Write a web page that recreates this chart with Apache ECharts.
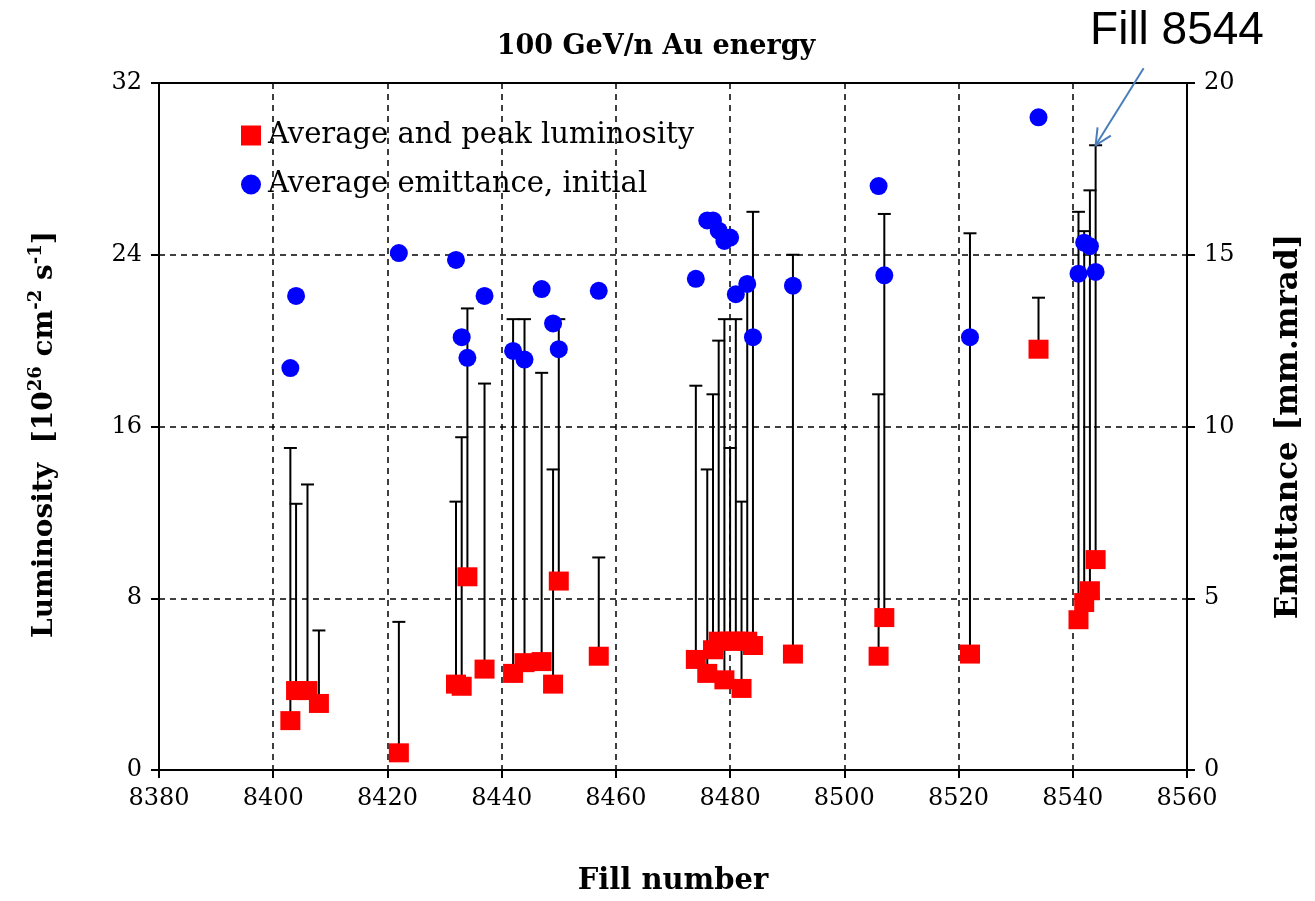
<!DOCTYPE html>
<html><head><meta charset="utf-8">
<script src="https://cdn.jsdelivr.net/npm/echarts@6/dist/echarts.min.js"></script>
<style>html,body{margin:0;padding:0;background:#fff}#c{width:1315px;height:901px}</style>
</head><body><div id="c"></div>
<script>
// ---- data ----
const lumFills = [8403,8404,8406,8408,8422,8432,8433,8434,8437,8442,8444,8447,8449,8450,8457,8474,8476,8477,8478,8479,8480,8481,8482,8483,8484,8491,8506,8507,8522,8534,8541,8542,8543,8544];
const avgLum   = [2.3,3.7,3.7,3.1,0.8,4.0,3.9,9.0,4.7,4.5,5.0,5.05,4.0,8.8,5.3,5.15,4.5,5.6,6.0,4.2,6.0,6.0,3.8,6.0,5.8,5.4,5.3,7.1,5.4,19.6,7.0,7.8,8.35,9.8];
const peakLum  = [15.0,12.4,13.3,6.5,6.9,12.5,15.5,21.5,18.0,21.0,21.0,18.5,14.0,21.0,9.9,17.9,14.0,17.5,20.0,21.0,15.0,21.0,12.5,22.6,26.0,24.0,17.5,25.9,25.0,22.0,26.0,25.1,27.0,29.1];
const emitFills = [8403,8404,8422,8432,8433,8434,8437,8442,8444,8447,8449,8450,8457,8474,8476,8477,8478,8479,8480,8481,8483,8484,8491,8506,8507,8522,8534,8541,8542,8543,8544];
const emittance = [11.7,13.8,15.05,14.85,12.6,12.0,13.8,12.2,11.95,14.0,13.0,12.25,13.95,14.3,16.0,16.0,15.7,15.4,15.5,13.85,14.15,12.6,14.1,17.0,14.4,12.6,19.0,14.45,15.35,15.25,14.5];
const xTicks = {min: 8380, max: 8560, interval: 20};
const yLeftTicks = {min: 0, max: 32, interval: 8};
const yRightTicks = {min: 0, max: 20, interval: 5};
const titleText = '100 GeV/n Au energy';
const annotFill = 8544;
// --------------------------------------

const SERIF = '"DejaVu Serif", "Liberation Serif", serif';
const chart = echarts.init(document.getElementById('c'), null, {renderer: 'canvas'});

const errData = lumFills.map((f, i) => [f, avgLum[i], peakLum[i]]);
const lumData = lumFills.map((f, i) => [f, avgLum[i]]);
const emData = emitFills.map((f, i) => [f, emittance[i]]);

const gridLine = {show: true, lineStyle: {color: '#000', type: [6, 5], width: 1.5}};
const axisLabelStyle = {color: '#000', fontFamily: SERIF, fontSize: 24, formatter: v => String(v)};

chart.setOption({
  animation: false,
  backgroundColor: '#fff',
  title: {
    text: titleText, left: 651, top: 28, textAlign: 'center',
    textStyle: {fontFamily: SERIF, fontWeight: 'bold', fontSize: 27, color: '#000'}
  },
  legend: {
    left: 236, top: 116, orient: 'vertical', itemGap: 20, itemWidth: 20, itemHeight: 20,
    textStyle: {fontFamily: SERIF, fontSize: 29, color: '#000', padding: [0, 0, 0, 2]},
    data: [
      {name: 'Average and peak luminosity', icon: 'rect'},
      {name: 'Average emittance, initial', icon: 'circle'}
    ]
  },
  grid: {left: 159, right: 128, top: 83, bottom: 130, show: true, borderColor: '#000', borderWidth: 2, backgroundColor: 'transparent'},
  xAxis: {
    type: 'value', min: xTicks.min, max: xTicks.max, interval: xTicks.interval,
    name: 'Fill number', nameLocation: 'middle', nameGap: 97,
    nameTextStyle: {fontFamily: SERIF, fontWeight: 'bold', fontSize: 29, color: '#000'},
    axisLine: {lineStyle: {color: '#000', width: 2}},
    axisTick: {show: true, length: 8, lineStyle: {color: '#000', width: 2}},
    axisLabel: Object.assign({margin: 17}, axisLabelStyle),
    splitLine: gridLine
  },
  yAxis: [{
    type: 'value', min: yLeftTicks.min, max: yLeftTicks.max, interval: yLeftTicks.interval,
    name: '{n|Luminosity  [10}{s|26}{n| cm}{s|-2}{n| s}{s|-1}{n|]}', nameLocation: 'middle', nameGap: 96, nameRotate: 90,
    nameTextStyle: {
      padding: [0, 16, 0, 0],
      rich: {
        n: {fontFamily: SERIF, fontWeight: 'bold', fontSize: 28, color: '#000', lineHeight: 36},
        s: {fontFamily: SERIF, fontWeight: 'bold', fontSize: 18, color: '#000', lineHeight: 20, verticalAlign: 'top'}
      }
    },
    axisLine: {show: true, lineStyle: {color: '#000', width: 2}},
    axisTick: {show: true, length: 8, lineStyle: {color: '#000', width: 2}},
    axisLabel: Object.assign({margin: 17}, axisLabelStyle),
    splitLine: gridLine
  }, {
    type: 'value', position: 'right', min: yRightTicks.min, max: yRightTicks.max, interval: yRightTicks.interval,
    name: 'Emittance [mm.mrad]', nameLocation: 'middle', nameGap: 86, nameRotate: 90,
    nameTextStyle: {fontFamily: SERIF, fontWeight: 'bold', fontSize: 31, color: '#000'},
    axisLine: {show: true, lineStyle: {color: '#000', width: 2}},
    axisTick: {show: true, length: 8, lineStyle: {color: '#000', width: 2}},
    axisLabel: Object.assign({margin: 17}, axisLabelStyle),
    splitLine: {show: false}
  }],
  series: [{
    type: 'custom', name: 'errbar', yAxisIndex: 0, silent: true, z: 1,
    data: errData,
    encode: {x: 0, y: [1, 2]},
    renderItem: function (params, api) {
      const lo = api.coord([api.value(0), api.value(1)]);
      const hi = api.coord([api.value(0), api.value(2)]);
      const hw = 6.5;
      return {
        type: 'group',
        children: [
          {type: 'line', shape: {x1: lo[0], y1: lo[1], x2: hi[0], y2: hi[1]}, style: {stroke: '#000', lineWidth: 2}},
          {type: 'line', shape: {x1: hi[0] - hw, y1: hi[1], x2: hi[0] + hw, y2: hi[1]}, style: {stroke: '#000', lineWidth: 2}}
        ]
      };
    }
  }, {
    type: 'scatter', name: 'Average and peak luminosity', yAxisIndex: 0, z: 3,
    symbol: 'rect', symbolSize: [20, 19],
    itemStyle: {color: '#ff0000', opacity: 1},
    data: lumData
  }, {
    type: 'scatter', name: 'Average emittance, initial', yAxisIndex: 1, z: 4,
    symbol: 'circle', symbolSize: 18,
    itemStyle: {color: '#0000ff', opacity: 1},
    data: emData
  }]
});

// annotation arrow pointing at the peak of the annotated fill
const idx = lumFills.indexOf(annotFill);
const tip = chart.convertToPixel({xAxisIndex: 0, yAxisIndex: 0}, [annotFill, peakLum[idx]]);
const tail = [tip[0] + 48, tip[1] - 77];
const ang = Math.atan2(tip[1] - tail[1], tip[0] - tail[0]);
const ah = 18, aw = 0.45;
const p1 = [tip[0] - ah * Math.cos(ang - aw), tip[1] - ah * Math.sin(ang - aw)];
const p2 = [tip[0] - ah * Math.cos(ang + aw), tip[1] - ah * Math.sin(ang + aw)];
chart.setOption({
  graphic: [
    {type: 'line', shape: {x1: tail[0], y1: tail[1], x2: tip[0], y2: tip[1]}, style: {stroke: '#4a7ebb', lineWidth: 2}, z: 10},
    {type: 'polyline', shape: {points: [p1, tip, p2]}, style: {stroke: '#4a7ebb', lineWidth: 2, fill: null}, z: 10},
    {type: 'text', x: 1177, y: 31, style: {text: 'Fill ' + annotFill, fill: '#000', font: '46px "Liberation Sans", Arial, sans-serif', textAlign: 'center', textVerticalAlign: 'middle'}, z: 10}
  ]
});
</script></body></html>
